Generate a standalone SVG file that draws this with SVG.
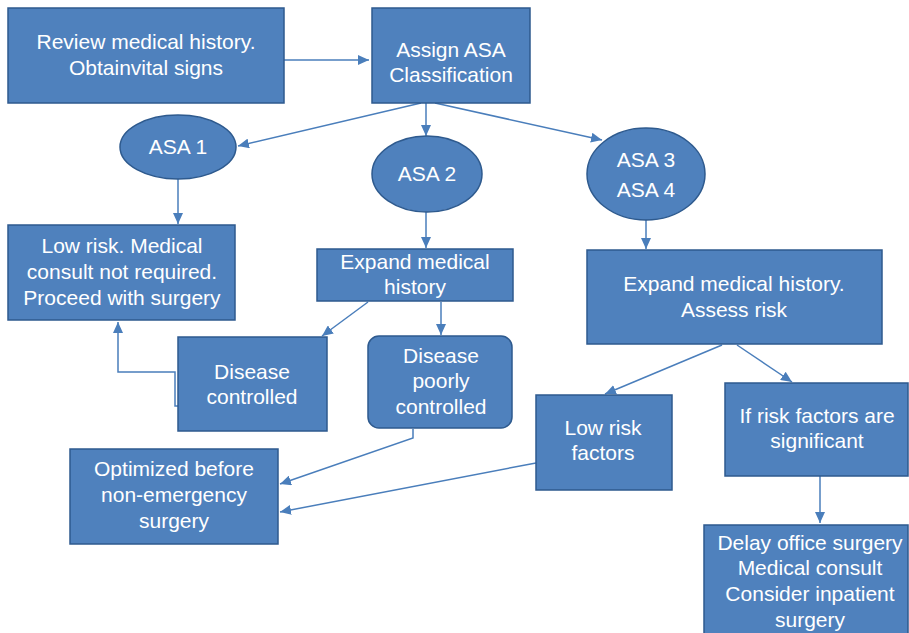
<svg xmlns="http://www.w3.org/2000/svg" width="909" height="633" viewBox="0 0 909 633">
<defs>
<style>
.n{fill:#4F81BD;stroke:#2E5A8E;stroke-width:1.5}
.t{font-family:"Liberation Sans",Arial,sans-serif;font-size:21px;fill:#fff;text-anchor:middle}
.c{fill:none;stroke:#4A7EBB;stroke-width:1.5}
</style>
<marker id="a" markerUnits="userSpaceOnUse" markerWidth="12" markerHeight="10" refX="11" refY="5" orient="auto">
<path d="M0,0 L11,5 L0,10 Z" fill="#4A7EBB"/>
</marker>
</defs>
<rect width="909" height="633" fill="#fff"/>
<g id="connectors">
<path class="c" d="M284,60 H369" marker-end="url(#a)"/>
<path class="c" d="M421,103 L238,146" marker-end="url(#a)"/>
<path class="c" d="M426,103 V136" marker-end="url(#a)"/>
<path class="c" d="M435,103 L602,140" marker-end="url(#a)"/>
<path class="c" d="M178,179 V224" marker-end="url(#a)"/>
<path class="c" d="M426,212 V248" marker-end="url(#a)"/>
<path class="c" d="M646,220 V249" marker-end="url(#a)"/>
<path class="c" d="M368,302 L322,336" marker-end="url(#a)"/>
<path class="c" d="M441,302 V335" marker-end="url(#a)"/>
<path class="c" d="M178,406 H175 V372 H118 V322" marker-end="url(#a)"/>
<path class="c" d="M413,429 V438 L280,484" marker-end="url(#a)"/>
<path class="c" d="M536,463 L280,512" marker-end="url(#a)"/>
<path class="c" d="M722,345 L605,394" marker-end="url(#a)"/>
<path class="c" d="M737,345 L792,382" marker-end="url(#a)"/>
<path class="c" d="M820,476 V523" marker-end="url(#a)"/>
</g>
<g id="review"><rect class="n" x="8" y="8" width="276" height="95"/>
<text class="t" x="146" y="49">Review medical history.</text><text class="t" x="146" y="75">Obtainvital signs</text></g>
<g id="assign"><rect class="n" x="372" y="8" width="158" height="95"/>
<text class="t" x="451" y="57">Assign ASA</text><text class="t" x="451" y="82">Classification</text></g>
<g id="asa1"><ellipse class="n" cx="178" cy="147" rx="58" ry="32"/>
<text class="t" x="178" y="154">ASA 1</text></g>
<g id="asa2"><ellipse class="n" cx="427" cy="174" rx="55" ry="38"/>
<text class="t" x="427" y="181">ASA 2</text></g>
<g id="asa34"><ellipse class="n" cx="646" cy="174" rx="59" ry="46"/>
<text class="t" x="646" y="167">ASA 3</text><text class="t" x="646" y="197">ASA 4</text></g>
<g id="lowrisk"><rect class="n" x="8" y="225" width="227" height="95"/>
<text class="t" x="122" y="253">Low risk. Medical</text><text class="t" x="122" y="279">consult not required.</text><text class="t" x="122" y="305">Proceed with surgery</text></g>
<g id="expand"><rect class="n" x="317" y="249" width="196" height="52"/>
<text class="t" x="415" y="269">Expand medical</text><text class="t" x="415" y="294">history</text></g>
<g id="controlled"><rect class="n" x="178" y="337" width="149" height="94"/>
<text class="t" x="252" y="379">Disease</text><text class="t" x="252" y="404">controlled</text></g>
<g id="poorly"><rect class="n" x="368" y="336" width="144" height="92" rx="11"/>
<text class="t" x="441" y="363">Disease</text><text class="t" x="441" y="388">poorly</text><text class="t" x="441" y="414">controlled</text></g>
<g id="optimized"><rect class="n" x="70" y="449" width="208" height="95"/>
<text class="t" x="174" y="476">Optimized before</text><text class="t" x="174" y="502">non-emergency</text><text class="t" x="174" y="528">surgery</text></g>
<g id="assess"><rect class="n" x="587" y="250" width="295" height="94"/>
<text class="t" x="734" y="291">Expand medical history.</text><text class="t" x="734" y="317">Assess risk</text></g>
<g id="lowfactors"><rect class="n" x="536" y="395" width="136" height="95"/>
<text class="t" x="603" y="435">Low risk</text><text class="t" x="603" y="460">factors</text></g>
<g id="significant"><rect class="n" x="725" y="383" width="183" height="93"/>
<text class="t" x="817" y="423">If risk factors are</text><text class="t" x="817" y="448">significant</text></g>
<g id="delay"><rect class="n" x="704" y="525" width="204" height="115"/>
<text class="t" x="810" y="550">Delay office surgery</text><text class="t" x="810" y="575">Medical consult</text><text class="t" x="810" y="601">Consider inpatient</text><text class="t" x="810" y="627">surgery</text></g>
</svg>
